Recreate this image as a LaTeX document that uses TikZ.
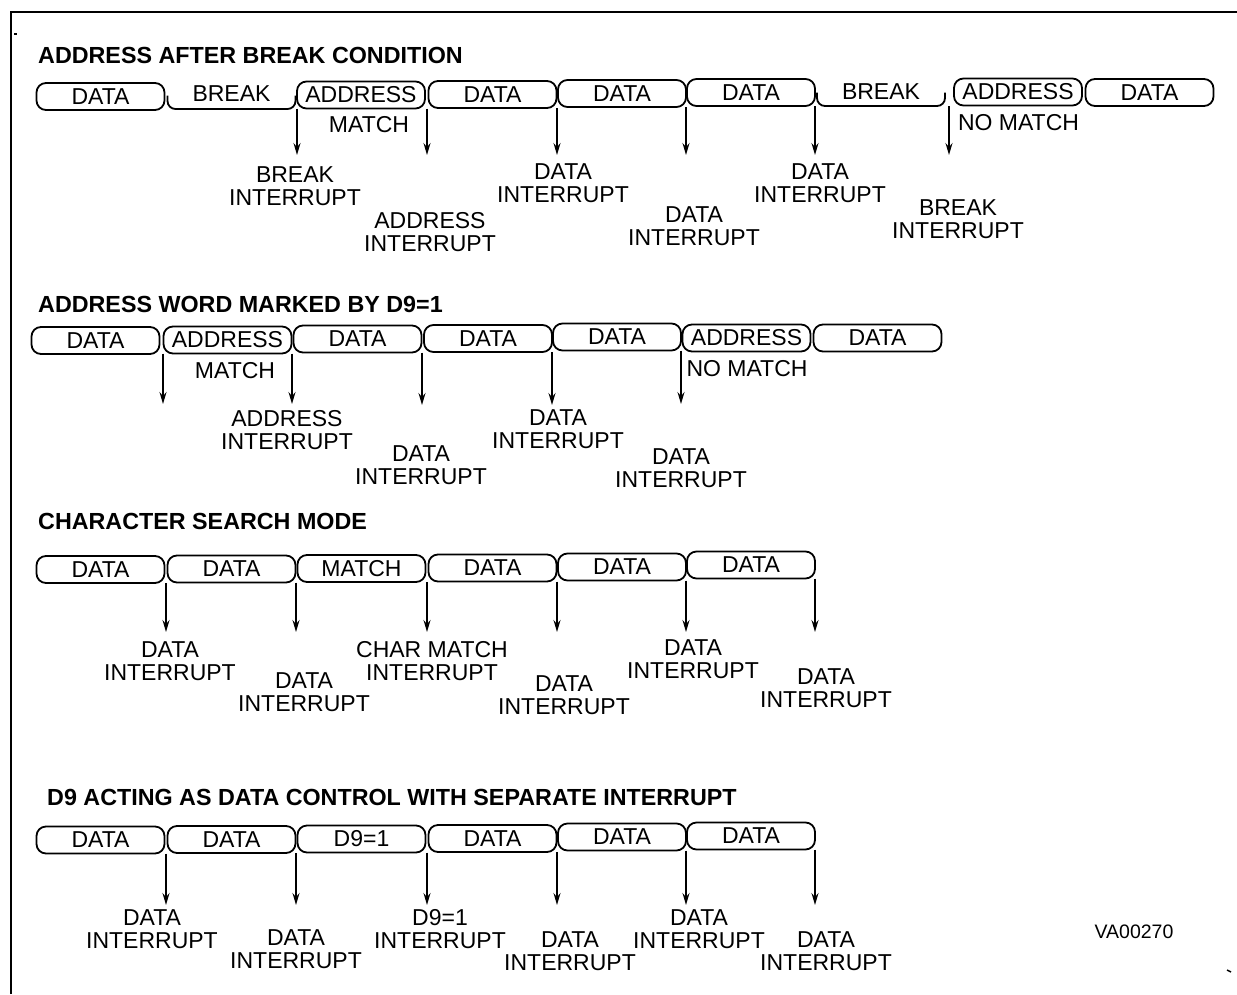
\documentclass[tikz,border=0pt]{standalone}
\usepackage{fontspec}
\setmainfont{Liberation Sans}
\usetikzlibrary{arrows.meta}
\begin{document}
\begin{tikzpicture}[x=1pt,y=-1pt,
  slot/.style={draw,line width=1.8pt,rounded corners=9.5pt,minimum width=128pt,minimum height=27pt,inner sep=0pt,outer sep=0pt,font=\fontsize{23}{23}\selectfont},
  brk/.style={minimum width=128pt,minimum height=27pt,inner sep=0pt,outer sep=0pt,font=\fontsize{23}{23}\selectfont},
  brkline/.style={draw,line width=1.8pt,rounded corners=8pt},
  lbl/.style={align=center,inner sep=0pt,font=\fontsize{23}{23}\selectfont},
  ttl/.style={anchor=west,inner sep=0pt,font=\fontsize{23.3}{23}\selectfont\bfseries},
  arr/.style={line width=1.6pt,-{Stealth[length=12pt,width=7pt,inset=4pt]}}
]
\useasboundingbox (0,0) rectangle (1237,994);
\draw[line width=2pt] (11,994) -- (11,12) -- (1237,12);
\draw[line width=1.5pt] (14,34) -- (17,34);
\draw[line width=1.5pt] (1227,970) -- (1231,972);

% ---------- Row 1 ----------
\node[ttl] (t1) at (38,55) {ADDRESS AFTER BREAK CONDITION};
\node[slot] (a1) at (100.5,96.5) {DATA};
\node[brk] (a2) at (231.5,95.5) {\raisebox{3pt}{BREAK}};
\draw[brkline] (a2.west) -- (a2.south west) -- (a2.south east) -- (a2.east);
\node[slot] (a3) at (361,95) {ADDRESS};
\node[slot] (a4) at (492.5,94.5) {DATA};
\node[slot] (a5) at (622,93.5) {DATA};
\node[slot] (a6) at (751,92.5) {DATA};
\node[brk] (a7) at (881,92.5) {\raisebox{1pt}{BREAK}};
\draw[brkline] (a7.west) -- (a7.south west) -- (a7.south east) -- (a7.east);
\node[slot] (a8) at (1018,92) {ADDRESS};
\node[slot] (a9) at (1149.5,92.5) {DATA};

\coordinate (e11) at (297,155);
\coordinate (e12) at (427,155);
\coordinate (e13) at (557,155);
\coordinate (e14) at (686,155);
\coordinate (e15) at (815,155);
\coordinate (e16) at (949,155);
\draw[arr] (e11 |- a3.south west) -- (e11);
\draw[arr] (e12 |- a3.south east) -- (e12);
\draw[arr] (e13 |- a4.south east) -- (e13);
\draw[arr] (e14 |- a5.south east) -- (e14);
\draw[arr] (e15 |- a6.south east) -- (e15);
\draw[arr] (e16 |- a7.south east) -- (e16);

\node[lbl] (m11) at (369,125) {MATCH};
\node[lbl] (m12) at (1018.5,123) {NO MATCH};
\node[lbl] (l11) at (295,186.5) {BREAK\\INTERRUPT};
\node[lbl] (l12) at (430,232.5) {ADDRESS\\INTERRUPT};
\node[lbl] (l13) at (563,183) {DATA\\INTERRUPT};
\node[lbl] (l14) at (694,226.5) {DATA\\INTERRUPT};
\node[lbl] (l15) at (820,183) {DATA\\INTERRUPT};
\node[lbl] (l16) at (958,219.5) {BREAK\\INTERRUPT};

% ---------- Row 2 ----------
\node[ttl] (t2) at (38,304) {ADDRESS WORD MARKED BY D9=1};
\node[slot] (b1) at (95.5,340.5) {DATA};
\node[slot] (b2) at (227.5,340) {ADDRESS};
\node[slot] (b3) at (357.5,339) {DATA};
\node[slot] (b4) at (488,338.5) {DATA};
\node[slot] (b5) at (617,337) {DATA};
\node[slot] (b6) at (746.5,338) {ADDRESS};
\node[slot] (b7) at (877.5,338) {DATA};

\coordinate (e21) at (163,404);
\coordinate (e22) at (292,404);
\coordinate (e23) at (422,405);
\coordinate (e24) at (552,405);
\coordinate (e25) at (681,404);
\draw[arr] (e21 |- b2.south west) -- (e21);
\draw[arr] (e22 |- b2.south east) -- (e22);
\draw[arr] (e23 |- b3.south east) -- (e23);
\draw[arr] (e24 |- b4.south east) -- (e24);
\draw[arr] (e25 |- b5.south east) -- (e25);

\node[lbl] (m21) at (235,371) {MATCH};
\node[lbl] (m22) at (747,369) {NO MATCH};
\node[lbl] (l21) at (287,430) {ADDRESS\\INTERRUPT};
\node[lbl] (l22) at (421,465.5) {DATA\\INTERRUPT};
\node[lbl] (l23) at (558,429.5) {DATA\\INTERRUPT};
\node[lbl] (l24) at (681,468) {DATA\\INTERRUPT};

% ---------- Row 3 ----------
\node[ttl] (t3) at (38,521) {CHARACTER SEARCH MODE};
\node[slot] (c1) at (100.5,569.5) {DATA};
\node[slot] (c2) at (231.5,569) {DATA};
\node[slot] (c3) at (361.5,568.5) {MATCH};
\node[slot] (c4) at (492.5,568) {DATA};
\node[slot] (c5) at (622,567) {DATA};
\node[slot] (c6) at (751,565) {DATA};

\coordinate (e31) at (166,632);
\coordinate (e32) at (296,632);
\coordinate (e33) at (427,632);
\coordinate (e34) at (557,632);
\coordinate (e35) at (686,632);
\coordinate (e36) at (815,632);
\draw[arr] (e31 |- c1.south east) -- (e31);
\draw[arr] (e32 |- c2.south east) -- (e32);
\draw[arr] (e33 |- c3.south east) -- (e33);
\draw[arr] (e34 |- c4.south east) -- (e34);
\draw[arr] (e35 |- c5.south east) -- (e35);
\draw[arr] (e36 |- c6.south east) -- (e36);

\node[lbl] (l31) at (170,661.5) {DATA\\INTERRUPT};
\node[lbl] (l32) at (304,692.5) {DATA\\INTERRUPT};
\node[lbl] (l33) at (432,661.5) {CHAR MATCH\\INTERRUPT};
\node[lbl] (l34) at (564,695.5) {DATA\\INTERRUPT};
\node[lbl] (l35) at (693,659.5) {DATA\\INTERRUPT};
\node[lbl] (l36) at (826,688.5) {DATA\\INTERRUPT};

% ---------- Row 4 ----------
\node[ttl] (t4) at (47,797) {D9 ACTING AS DATA CONTROL WITH SEPARATE INTERRUPT};
\node[slot] (d1) at (100.5,840) {DATA};
\node[slot] (d2) at (231.5,839.5) {DATA};
\node[slot] (d3) at (361.5,839) {D9=1};
\node[slot] (d4) at (492.5,838.5) {DATA};
\node[slot] (d5) at (622,837) {DATA};
\node[slot] (d6) at (751,836) {DATA};

\coordinate (e41) at (166,905);
\coordinate (e42) at (296,905);
\coordinate (e43) at (427,905);
\coordinate (e44) at (557,905);
\coordinate (e45) at (686,905);
\coordinate (e46) at (815,905);
\draw[arr] (e41 |- d1.south east) -- (e41);
\draw[arr] (e42 |- d2.south east) -- (e42);
\draw[arr] (e43 |- d3.south east) -- (e43);
\draw[arr] (e44 |- d4.south east) -- (e44);
\draw[arr] (e45 |- d5.south east) -- (e45);
\draw[arr] (e46 |- d6.south east) -- (e46);

\node[lbl] (l41) at (152,929.5) {DATA\\INTERRUPT};
\node[lbl] (l42) at (296,949.5) {DATA\\INTERRUPT};
\node[lbl] (l43) at (440,929.5) {D9=1\\INTERRUPT};
\node[lbl] (l44) at (570,951) {DATA\\INTERRUPT};
\node[lbl] (l45) at (699,929.5) {DATA\\INTERRUPT};
\node[lbl] (l46) at (826,951) {DATA\\INTERRUPT};
\node[lbl,font=\fontsize{19.5}{20}\selectfont] (va) at (1134,932) {VA00270};
\end{tikzpicture}
\end{document}
